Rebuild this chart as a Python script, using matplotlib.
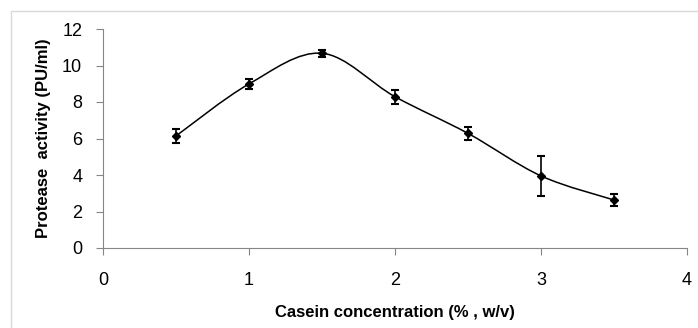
import matplotlib.pyplot as plt
from matplotlib.path import Path
from matplotlib.patches import PathPatch, Rectangle

plt.rcParams['font.family'] = ['Liberation Sans', 'DejaVu Sans']

casein = [0.5, 1.0, 1.5, 2.0, 2.5, 3.0, 3.5]
activity = [6.14, 8.99, 10.67, 8.29, 6.28, 3.95, 2.63]
err = [0.38, 0.27, 0.2, 0.38, 0.36, 1.1, 0.34]

fig = plt.figure(figsize=(6.98, 3.28), dpi=100)
fig.patches.append(Rectangle((11/698, -0.1), 1.2, (328-11)/328 + 0.1, transform=fig.transFigure,
                             fill=False, edgecolor='#d9d9d9', lw=1))
ax = fig.add_axes([103/698, 80/328, 584/698, 219/328])

# excel style smoothed line (bezier through points)
verts = [(casein[0], activity[0])]
codes = [Path.MOVETO]
n = len(casein)
for i in range(n - 1):
    x0, y0 = casein[max(i-1, 0)], activity[max(i-1, 0)]
    x1, y1 = casein[i], activity[i]
    x2, y2 = casein[i+1], activity[i+1]
    x3, y3 = casein[min(i+2, n-1)], activity[min(i+2, n-1)]
    c1 = (x1 + (x2 - x0)/6, y1 + (y2 - y0)/6)
    c2 = (x2 - (x3 - x1)/6, y2 - (y3 - y1)/6)
    verts += [c1, c2, (x2, y2)]
    codes += [Path.CURVE4]*3
ax.add_patch(PathPatch(Path(verts, codes), fill=False, edgecolor='black', lw=1.1))

ax.errorbar(casein, activity, yerr=err, fmt='D', color='black', ms=4,
            ecolor='black', elinewidth=1.2, capsize=3, capthick=1.5)

ax.set_xlim(0, 4)
ax.set_ylim(0, 12)
ax.set_xticks([0, 1, 2, 3, 4])
ax.set_yticks(range(0, 13, 2))
for s in ['top', 'right']:
    ax.spines[s].set_visible(False)
for s in ['left', 'bottom']:
    ax.spines[s].set_color('#868686')
ax.tick_params(axis='both', colors='#868686', labelcolor='black', labelsize=13, length=5)
ax.tick_params(axis='x', pad=12)
ax.tick_params(axis='y', pad=10)
ax.set_xlabel('Casein concentration (% , w/v)', fontsize=12, fontweight='bold', labelpad=12)
ax.set_ylabel('Protease  activity (PU/ml)', fontsize=12, fontweight='bold', labelpad=8)

fig.savefig('out.png', dpi=100)
